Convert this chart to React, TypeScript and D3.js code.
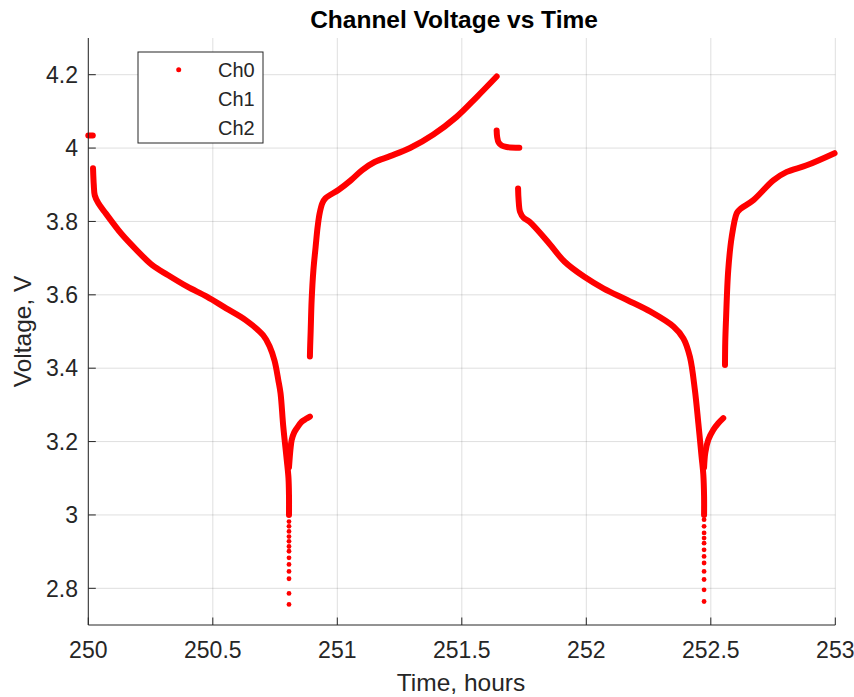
import React from "react";
import * as d3 from "d3";

// ---- data (time in hours, voltage in V) ----
const xTicks = [250, 250.5, 251, 251.5, 252, 252.5, 253];
const yTicks = [2.8, 3, 3.2, 3.4, 3.6, 3.8, 4, 4.2];
const legendLabels = ["Ch0", "Ch1", "Ch2"];

const rest1: [number, number][] = [[250.0, 4.034], [250.018, 4.034]];
const discharge1: [number, number][] = [
  [250.019, 3.945], [250.022, 3.9], [250.026, 3.871], [250.04, 3.85], [250.07, 3.822],
  [250.132, 3.767], [250.194, 3.722], [250.257, 3.681], [250.319, 3.654], [250.398, 3.622],
  [250.476, 3.595], [250.554, 3.563], [250.632, 3.531], [250.702, 3.49], [250.728, 3.46],
  [250.748, 3.42], [250.763, 3.368], [250.772, 3.332], [250.783, 3.241], [250.797, 3.15],
  [250.804, 3.1], [250.806, 3.05], [250.806, 3.0],
];
const tail1T = 250.806;
const tail1V = [2.982, 2.969, 2.955, 2.941, 2.928, 2.914, 2.901, 2.883, 2.865, 2.846, 2.826, 2.786, 2.756];
const recovery1: [number, number][] = [
  [250.806, 3.13], [250.812, 3.18], [250.817, 3.205], [250.827, 3.225], [250.837, 3.236],
  [250.857, 3.254], [250.875, 3.262], [250.89, 3.268],
];
const charge1: [number, number][] = [
  [250.89, 3.432], [250.891, 3.46], [250.893, 3.5], [250.897, 3.586], [250.904, 3.667],
  [250.913, 3.731], [250.921, 3.785], [250.929, 3.822], [250.94, 3.85], [250.952, 3.863],
  [251.007, 3.887], [251.054, 3.912], [251.1, 3.94], [251.15, 3.962], [251.212, 3.978],
  [251.292, 4.0], [251.386, 4.037], [251.479, 4.085], [251.56, 4.139], [251.64, 4.195],
];
const rest2: [number, number][] = [
  [251.64, 4.048], [251.642, 4.03], [251.648, 4.015], [251.66, 4.007], [251.68, 4.003], [251.731, 4.001],
];
const discharge2: [number, number][] = [
  [251.726, 3.89], [251.728, 3.86], [251.734, 3.826], [251.748, 3.81], [251.772, 3.799],
  [251.851, 3.74], [251.913, 3.69], [251.992, 3.649], [252.07, 3.617], [252.164, 3.586],
  [252.258, 3.554], [252.351, 3.513], [252.39, 3.481], [252.416, 3.431], [252.436, 3.341],
  [252.45, 3.25], [252.463, 3.159], [252.47, 3.11], [252.473, 3.05], [252.473, 3.0],
];
const tail2T = 252.473;
const tail2V = [2.987, 2.969, 2.951, 2.937, 2.923, 2.905, 2.887, 2.869, 2.846, 2.824, 2.796, 2.764];
const recovery2: [number, number][] = [
  [252.473, 3.13], [252.478, 3.17], [252.49, 3.205], [252.51, 3.232], [252.53, 3.25], [252.55, 3.264],
];
const charge2: [number, number][] = [
  [252.557, 3.409], [252.558, 3.47], [252.561, 3.531], [252.57, 3.667], [252.584, 3.758],
  [252.604, 3.822], [252.617, 3.833], [252.671, 3.858], [252.751, 3.912], [252.805, 3.935],
  [252.885, 3.953], [252.997, 3.986],
];

const segments = [rest1, discharge1, recovery1, charge1, rest2, discharge2, recovery2, charge2];
const tails: { t: number; v: number[] }[] = [
  { t: tail1T, v: tail1V },
  { t: tail2T, v: tail2V },
];

// ---- layout ----
const W = 854;
const H = 697;
const L = 88.3;
const R = 835.3;
const T = 38;
const B = 625;
const FONT = "'Liberation Sans', Arial, Helvetica, sans-serif";
const INK = "#262626";
const RED = "#ff0000";

export default function App() {
  const x = d3.scaleLinear().domain([250, 253]).range([L, R]);
  const y = d3.scaleLinear().domain([2.7, 4.3]).range([B, T]);
  const line = d3
    .line<[number, number]>()
    .x((d) => x(d[0]))
    .y((d) => y(d[1]))
    .curve(d3.curveCatmullRom.alpha(0.5));

  return (
    <svg
      width={W}
      height={H}
      style={{ position: "absolute", left: 0, top: 0, background: "#fff" }}
      fontFamily={FONT}
    >
      <rect x={0} y={0} width={W} height={H} fill="#fff" />
      {/* grid */}
      <g stroke={INK} strokeOpacity={0.15} strokeWidth={1}>
        {xTicks.map((t) => (
          <line key={"gx" + t} x1={x(t)} x2={x(t)} y1={T} y2={B} />
        ))}
        {yTicks.map((t) => (
          <line key={"gy" + t} x1={L} x2={R} y1={y(t)} y2={y(t)} />
        ))}
      </g>
      {/* data */}
      <g fill="none" stroke={RED} strokeWidth={6} strokeLinecap="round" strokeLinejoin="round">
        {segments.map((s, i) => (
          <path key={"s" + i} d={line(s) || ""} />
        ))}
      </g>
      <g fill={RED}>
        {tails.map((tl, i) =>
          tl.v.map((v, j) => <circle key={`t${i}-${j}`} cx={x(tl.t)} cy={y(v)} r={2.4} />)
        )}
      </g>
      {/* axes */}
      <g stroke={INK} strokeWidth={1}>
        <line x1={L} x2={L} y1={T} y2={B} />
        <line x1={L} x2={R} y1={B} y2={B} />
        {xTicks.map((t) => (
          <line key={"tx" + t} x1={x(t)} x2={x(t)} y1={B} y2={B - 7.5} />
        ))}
        {yTicks.map((t) => (
          <line key={"ty" + t} x1={L} x2={L + 7.5} y1={y(t)} y2={y(t)} />
        ))}
      </g>
      <g fill={INK} fontSize={23}>
        {xTicks.map((t) => (
          <text key={"lx" + t} x={x(t)} y={658} textAnchor="middle">
            {d3.format("~g")(t)}
          </text>
        ))}
        {yTicks.map((t) => (
          <text key={"ly" + t} x={78} y={y(t)} dy="0.36em" textAnchor="end">
            {d3.format("~g")(t)}
          </text>
        ))}
      </g>
      <text x={461} y={691} textAnchor="middle" fontSize={24.5} fill={INK}>
        Time, hours
      </text>
      <text
        transform={`translate(31,${(T + B) / 2}) rotate(-90)`}
        textAnchor="middle"
        fontSize={24.5}
        fill={INK}
      >
        Voltage, V
      </text>
      <text x={454} y={28} textAnchor="middle" fontSize={24.5} fontWeight="bold" fill="#000">
        Channel Voltage vs Time
      </text>
      {/* legend */}
      <rect x={138} y={52} width={125} height={91} fill="#fff" stroke={INK} strokeWidth={1} />
      <circle cx={178.7} cy={69.7} r={2.5} fill={RED} />
      {legendLabels.map((lab, i) => (
        <text key={lab} x={218} y={70 + i * 28.7} dy="0.36em" fontSize={20} fill={INK}>
          {lab}
        </text>
      ))}
    </svg>
  );
}
